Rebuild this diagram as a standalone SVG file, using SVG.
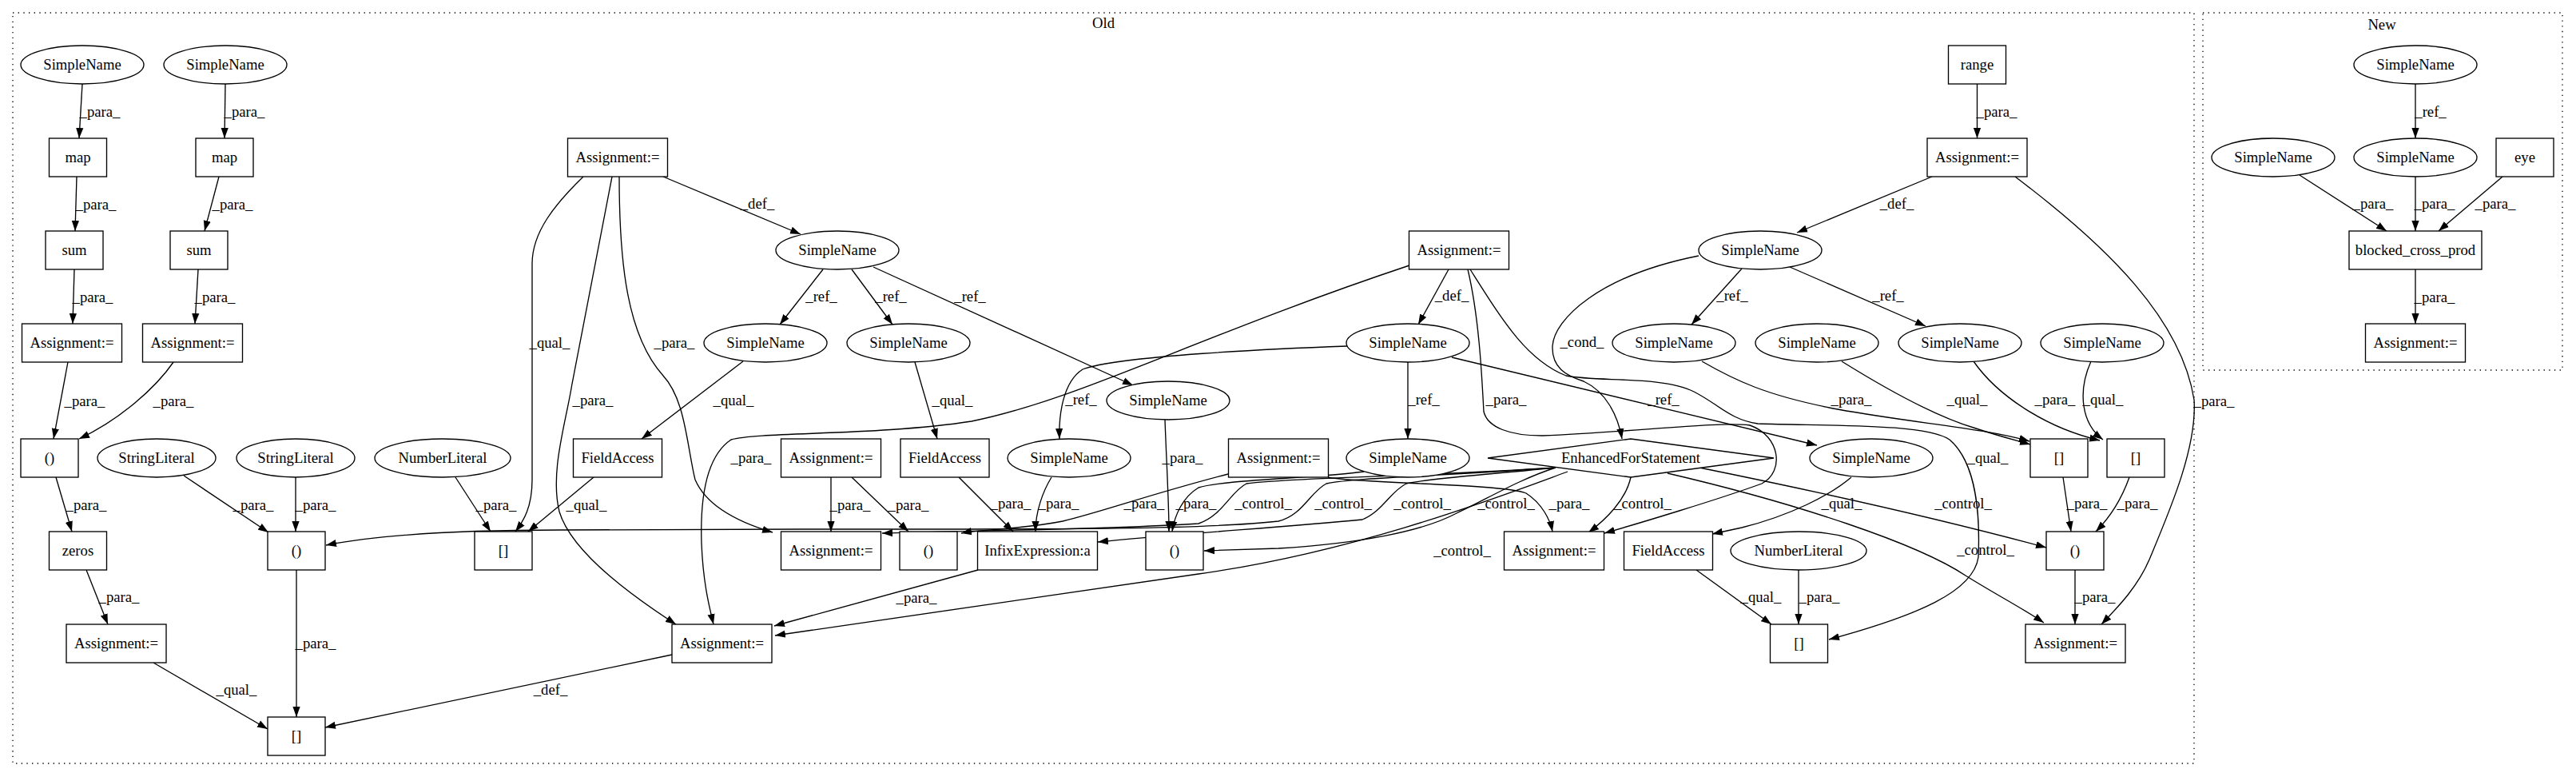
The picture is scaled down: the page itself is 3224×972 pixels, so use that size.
<svg xmlns="http://www.w3.org/2000/svg" width="3224" height="972" viewBox="0 0 3224 972">
<style>
.n rect,.n ellipse,.n polygon{fill:#fff;stroke:#000;stroke-width:1.33}
text{font-family:"Liberation Serif","Times New Roman",serif;font-size:18.67px;text-anchor:middle;fill:#000}
.e path{fill:none;stroke:#000;stroke-width:1.33;marker-end:url(#a)}
.cl{fill:none;stroke:#000;stroke-width:1.33;stroke-dasharray:1.33,5.33}
</style>
<defs>
<marker id="a" markerWidth="14" markerHeight="10" refX="13" refY="5" orient="auto" markerUnits="userSpaceOnUse"><path d="M0,0.4 L13,5 L0,9.6z" fill="#000"/></marker>
</defs>
<rect width="3224" height="972" fill="#fff"/>
<g id="clusters">
<rect class="cl" x="16" y="16" width="2730" height="939"/>
<text x="1381" y="35">Old</text>
<rect class="cl" x="2757" y="16" width="450" height="447"/>
<text x="2981" y="37">New</text>
</g>
<g class="e" id="edges">
<path d="M103,105 L99,173"/>
<path d="M282,105 L281,173"/>
<path d="M96,221 L94,289"/>
<path d="M274,221 L256,289"/>
<path d="M93,337 L91,405"/>
<path d="M248,337 L244,405"/>
<path d="M85,453 L67,549"/>
<path d="M217,453 C195,485 150,525 99,549"/>
<path d="M70,597 L90,665"/>
<path d="M108,713 L135,781"/>
<path d="M192,829 L335,912"/>
<path d="M230,595 L336,666"/>
<path d="M370,597 L370,665"/>
<path d="M371,713 L371,897"/>
<path d="M841,819 L407,910"/>
<path d="M570,597 L614,665"/>
<path d="M743,597 L661,665"/>
<path d="M730,221 C695,255 666,290 666,330 L666,600 C666,635 655,652 645,665"/>
<path d="M766,221 L716,480 C708,530 688,590 700,640 C715,690 790,745 846,781"/>
<path d="M775,221 C775,330 785,420 830,470 C858,500 860,560 870,600 C885,635 930,655 967,666"/>
<path d="M830,221 L1002,293"/>
<path d="M1030,337 L976,406"/>
<path d="M1066,337 L1117,406"/>
<path d="M1093,334 L1418,482"/>
<path d="M930,452 L803,549"/>
<path d="M1145,453 L1173,549"/>
<path d="M1200,597 L1268,665"/>
<path d="M1316,597 C1305,615 1296,640 1296,665"/>
<path d="M1040,597 L1040,665"/>
<path d="M1066,597 L1137,665"/>
<path d="M1224,713 L969,783"/>
<path d="M1813,337 L1775,406"/>
<path d="M1686,433 C1600,436 1400,445 1355,462 C1330,478 1325,520 1326,549"/>
<path d="M1762,453 L1762,549"/>
<path d="M1764,332 C1500,420 1350,500 1216,527 C1100,545 950,540 915,550 C885,570 876,620 878,680 C880,730 888,760 893,781"/>
<path d="M1817,447 L2274,557"/>
<path d="M1458,525 C1460,580 1463,630 1463,665"/>
<path d="M1537,593 C1440,618 1380,640 1330,652 C1280,662 1230,662 1203,667"/>
<path d="M1707,590 C1650,598 1530,600 1500,610 C1480,622 1470,645 1467,665"/>
<path d="M1662,597 C1700,605 1880,605 1910,617 C1930,630 1940,650 1943,665"/>
<path d="M2126,320 C2000,345 1945,400 1943,433 C1942,460 1960,470 1982,477 C2010,490 2025,520 2030,549"/>
<path d="M2180,336 L2117,406"/>
<path d="M2240,334 L2410,408"/>
<path d="M2474.5,105 L2474.5,173"/>
<path d="M2418,221 L2249,291"/>
<path d="M2522,221 C2640,310 2730,400 2746,500 C2750,560 2715,640 2690,700 C2675,735 2650,760 2630,781"/>
<path d="M2305,452 C2350,480 2420,520 2470,535 C2500,545 2520,550 2541,556"/>
<path d="M2470,452 C2500,495 2560,535 2628,551"/>
<path d="M2617,452 C2600,490 2605,530 2632,550"/>
<path d="M2582,597 L2592,665"/>
<path d="M2665,597 C2655,625 2640,648 2623,665"/>
<path d="M2597,713 L2597,781"/>
<path d="M2251,713 L2251,781"/>
<path d="M2123,713 L2217,781"/>
<path d="M2317,597 C2290,620 2240,645 2180,660 L2143,668"/>
<path d="M2130,452 C2170,475 2210,495 2300,512 C2400,530 2480,535 2540,552"/>
<path d="M1840,337 C1880,400 1910,450 1960,470 C2000,478 2080,470 2120,490 C2150,505 2165,525 2200,530 C2300,533 2410,530 2440,550 C2475,580 2478,650 2476,697 C2470,740 2400,770 2289,800"/>
<path d="M1837,337 C1852,400 1855,480 1857,515 C1862,535 1890,545 1930,545 C2050,540 2150,527 2190,532 C2228,545 2234,590 2205,605 C2150,625 2050,655 2008,667"/>
<path d="M1947,585 C1800,596 1700,597 1660,605 C1640,615 1630,645 1600,652 C1500,663 1300,662 1000,662 L700,663 C560,663 470,670 408,682"/>
<path d="M1947,585 C1780,596 1600,598 1560,605 C1540,615 1530,645 1500,655 C1400,662 1200,664 1104,667"/>
<path d="M1947,585 C1850,595 1790,598 1760,605 C1740,615 1730,640 1705,650 C1600,660 1470,668 1374,678"/>
<path d="M1947,585 C1900,600 1860,625 1823,642 C1780,665 1700,680 1600,686 L1507,689"/>
<path d="M1962,590 C1880,620 1700,690 1500,718 L970,795"/>
<path d="M2041,597 C2035,625 2010,650 1988,666"/>
<path d="M2127,585 C2300,620 2450,655 2561,685"/>
<path d="M2087,592 C2250,630 2400,680 2460,720 C2500,745 2530,760 2558,779"/>
<path d="M3023,105 L3023,173"/>
<path d="M2878,219 L2987,289"/>
<path d="M3023,221 L3023,289"/>
<path d="M3132,221 L3052,289"/>
<path d="M3023,337 L3023,405"/>
</g>
<g id="edge-labels">
<text x="125" y="146">_para_</text>
<text x="306" y="146">_para_</text>
<text x="120" y="262">_para_</text>
<text x="291" y="262">_para_</text>
<text x="116" y="378">_para_</text>
<text x="269" y="378">_para_</text>
<text x="106" y="508">_para_</text>
<text x="217" y="508">_para_</text>
<text x="108" y="638">_para_</text>
<text x="149" y="753">_para_</text>
<text x="296" y="869">_qual_</text>
<text x="317" y="638">_para_</text>
<text x="395" y="638">_para_</text>
<text x="395" y="811">_para_</text>
<text x="689" y="869">_def_</text>
<text x="621" y="638">_para_</text>
<text x="734" y="638">_qual_</text>
<text x="688" y="435">_qual_</text>
<text x="742" y="507">_para_</text>
<text x="844" y="435">_para_</text>
<text x="948" y="261">_def_</text>
<text x="1028" y="377">_ref_</text>
<text x="1115" y="377">_ref_</text>
<text x="1214" y="377">_ref_</text>
<text x="918" y="507">_qual_</text>
<text x="1192" y="507">_qual_</text>
<text x="1265" y="636">_para_</text>
<text x="1325" y="636">_para_</text>
<text x="1064" y="638">_para_</text>
<text x="1137" y="638">_para_</text>
<text x="1147" y="754">_para_</text>
<text x="1817" y="376">_def_</text>
<text x="1353" y="506">_ref_</text>
<text x="1782" y="506">_ref_</text>
<text x="940" y="579">_para_</text>
<text x="2082" y="506">_ref_</text>
<text x="1480" y="579">_para_</text>
<text x="1432" y="636">_para_</text>
<text x="1497" y="636">_para_</text>
<text x="1964" y="636">_para_</text>
<text x="1980" y="434">_cond_</text>
<text x="2168" y="376">_ref_</text>
<text x="2363" y="376">_ref_</text>
<text x="2499" y="146">_para_</text>
<text x="2374" y="261">_def_</text>
<text x="2771" y="508">_para_</text>
<text x="2462" y="506">_qual_</text>
<text x="2572" y="506">_para_</text>
<text x="2632" y="506">_qual_</text>
<text x="2612" y="636">_para_</text>
<text x="2675" y="636">_para_</text>
<text x="2622" y="753">_para_</text>
<text x="2277" y="753">_para_</text>
<text x="2204" y="753">_qual_</text>
<text x="2305" y="636">_qual_</text>
<text x="2317" y="506">_para_</text>
<text x="2488" y="579">_qual_</text>
<text x="1885" y="506">_para_</text>
<text x="1581" y="636">_control_</text>
<text x="1681" y="636">_control_</text>
<text x="1780" y="636">_control_</text>
<text x="1885" y="636">_control_</text>
<text x="2056" y="636">_control_</text>
<text x="1830" y="695">_control_</text>
<text x="2457" y="636">_control_</text>
<text x="2485" y="694">_control_</text>
<text x="3042" y="146">_ref_</text>
<text x="2970" y="261">_para_</text>
<text x="3047" y="261">_para_</text>
<text x="3123" y="261">_para_</text>
<text x="3047" y="378">_para_</text>
</g>
<g class="n" id="N1"><ellipse cx="103" cy="81" rx="77" ry="24"/><text x="103" y="87">SimpleName</text></g>
<g class="n" id="N2"><ellipse cx="282" cy="81" rx="77" ry="24"/><text x="282" y="87">SimpleName</text></g>
<g class="n" id="N3"><rect x="61.5" y="173" width="72" height="48"/><text x="97.5" y="203">map</text></g>
<g class="n" id="N4"><rect x="245" y="173" width="72" height="48"/><text x="281" y="203">map</text></g>
<g class="n" id="N5"><rect x="57" y="289" width="72" height="48"/><text x="93" y="319">sum</text></g>
<g class="n" id="N6"><rect x="213" y="289" width="72" height="48"/><text x="249" y="319">sum</text></g>
<g class="n" id="N7"><rect x="27.5" y="405" width="125" height="48"/><text x="90" y="435">Assignment:=</text></g>
<g class="n" id="N8"><rect x="178.5" y="405" width="125" height="48"/><text x="241" y="435">Assignment:=</text></g>
<g class="n" id="N9"><rect x="26" y="549" width="72" height="48"/><text x="62" y="579">()</text></g>
<g class="n" id="N10"><rect x="61.5" y="665" width="72" height="48"/><text x="97.5" y="695">zeros</text></g>
<g class="n" id="N11"><rect x="83" y="781" width="125" height="48"/><text x="145.5" y="811">Assignment:=</text></g>
<g class="n" id="N12"><ellipse cx="196" cy="573" rx="74" ry="24"/><text x="196" y="579">StringLiteral</text></g>
<g class="n" id="N13"><ellipse cx="370" cy="573" rx="74" ry="24"/><text x="370" y="579">StringLiteral</text></g>
<g class="n" id="N14"><rect x="335" y="665" width="72" height="48"/><text x="371" y="695">()</text></g>
<g class="n" id="N15"><rect x="335" y="897" width="72" height="48"/><text x="371" y="927">[]</text></g>
<g class="n" id="N16"><ellipse cx="554" cy="573" rx="85" ry="24"/><text x="554" y="579">NumberLiteral</text></g>
<g class="n" id="N17"><rect x="594" y="665" width="72" height="48"/><text x="630" y="695">[]</text></g>
<g class="n" id="N18"><rect x="710.5" y="173" width="125" height="48"/><text x="773" y="203">Assignment:=</text></g>
<g class="n" id="N19"><ellipse cx="1048" cy="313" rx="77" ry="24"/><text x="1048" y="319">SimpleName</text></g>
<g class="n" id="N20"><ellipse cx="958" cy="429" rx="77" ry="24"/><text x="958" y="435">SimpleName</text></g>
<g class="n" id="N21"><ellipse cx="1137" cy="429" rx="77" ry="24"/><text x="1137" y="435">SimpleName</text></g>
<g class="n" id="N22"><rect x="717.5" y="549" width="111" height="48"/><text x="773" y="579">FieldAccess</text></g>
<g class="n" id="N23"><rect x="977.5" y="549" width="125" height="48"/><text x="1040" y="579">Assignment:=</text></g>
<g class="n" id="N24"><rect x="1127" y="549" width="111" height="48"/><text x="1182.5" y="579">FieldAccess</text></g>
<g class="n" id="N25"><ellipse cx="1338" cy="573" rx="77" ry="24"/><text x="1338" y="579">SimpleName</text></g>
<g class="n" id="N26"><ellipse cx="1462" cy="501" rx="77" ry="24"/><text x="1462" y="507">SimpleName</text></g>
<g class="n" id="N27"><rect x="977.5" y="665" width="125" height="48"/><text x="1040" y="695">Assignment:=</text></g>
<g class="n" id="N28"><rect x="1126" y="665" width="72" height="48"/><text x="1162" y="695">()</text></g>
<g class="n" id="N29"><rect x="1223.5" y="665" width="150" height="48"/><text x="1298.5" y="695">InfixExpression:a</text></g>
<g class="n" id="N30"><rect x="1434" y="665" width="72" height="48"/><text x="1470" y="695">()</text></g>
<g class="n" id="N31"><rect x="841" y="781" width="125" height="48"/><text x="903.5" y="811">Assignment:=</text></g>
<g class="n" id="N32"><rect x="1763.5" y="289" width="125" height="48"/><text x="1826" y="319">Assignment:=</text></g>
<g class="n" id="N33"><ellipse cx="1762" cy="429" rx="77" ry="24"/><text x="1762" y="435">SimpleName</text></g>
<g class="n" id="N34"><rect x="1537.5" y="549" width="125" height="48"/><text x="1600" y="579">Assignment:=</text></g>
<g class="n" id="N35"><ellipse cx="1762" cy="573" rx="77" ry="24"/><text x="1762" y="579">SimpleName</text></g>
<g class="n" id="N36"><polygon points="1862,573 2041,549 2220,573 2041,597"/><text x="2041" y="579">EnhancedForStatement</text></g>
<g class="n" id="N37"><rect x="1882.5" y="665" width="125" height="48"/><text x="1945" y="695">Assignment:=</text></g>
<g class="n" id="N38"><rect x="2032.5" y="665" width="111" height="48"/><text x="2088" y="695">FieldAccess</text></g>
<g class="n" id="N39"><ellipse cx="2203" cy="313" rx="77" ry="24"/><text x="2203" y="319">SimpleName</text></g>
<g class="n" id="N40"><ellipse cx="2095" cy="429" rx="77" ry="24"/><text x="2095" y="435">SimpleName</text></g>
<g class="n" id="N41"><ellipse cx="2274" cy="429" rx="77" ry="24"/><text x="2274" y="435">SimpleName</text></g>
<g class="n" id="N42"><ellipse cx="2453" cy="429" rx="77" ry="24"/><text x="2453" y="435">SimpleName</text></g>
<g class="n" id="N43"><ellipse cx="2631" cy="429" rx="77" ry="24"/><text x="2631" y="435">SimpleName</text></g>
<g class="n" id="N44"><rect x="2438.5" y="57" width="72" height="48"/><text x="2474.5" y="87">range</text></g>
<g class="n" id="N45"><rect x="2412" y="173" width="125" height="48"/><text x="2474.5" y="203">Assignment:=</text></g>
<g class="n" id="N46"><ellipse cx="2342" cy="573" rx="77" ry="24"/><text x="2342" y="579">SimpleName</text></g>
<g class="n" id="N47"><rect x="2541" y="549" width="72" height="48"/><text x="2577" y="579">[]</text></g>
<g class="n" id="N48"><rect x="2637" y="549" width="72" height="48"/><text x="2673" y="579">[]</text></g>
<g class="n" id="N49"><rect x="2561" y="665" width="72" height="48"/><text x="2597" y="695">()</text></g>
<g class="n" id="N50"><ellipse cx="2251" cy="689" rx="85" ry="24"/><text x="2251" y="695">NumberLiteral</text></g>
<g class="n" id="N51"><rect x="2215.5" y="781" width="72" height="48"/><text x="2251.5" y="811">[]</text></g>
<g class="n" id="N52"><rect x="2535" y="781" width="125" height="48"/><text x="2597.5" y="811">Assignment:=</text></g>
<g class="n" id="M1"><ellipse cx="3023" cy="81" rx="77" ry="24"/><text x="3023" y="87">SimpleName</text></g>
<g class="n" id="M2"><ellipse cx="2845" cy="197" rx="77" ry="24"/><text x="2845" y="203">SimpleName</text></g>
<g class="n" id="M3"><ellipse cx="3023" cy="197" rx="77" ry="24"/><text x="3023" y="203">SimpleName</text></g>
<g class="n" id="M4"><rect x="3124" y="173" width="72" height="48"/><text x="3160" y="203">eye</text></g>
<g class="n" id="M5"><rect x="2940" y="289" width="166" height="48"/><text x="3023" y="319">blocked_cross_prod</text></g>
<g class="n" id="M6"><rect x="2960.5" y="405" width="125" height="48"/><text x="3023" y="435">Assignment:=</text></g>
</svg>
